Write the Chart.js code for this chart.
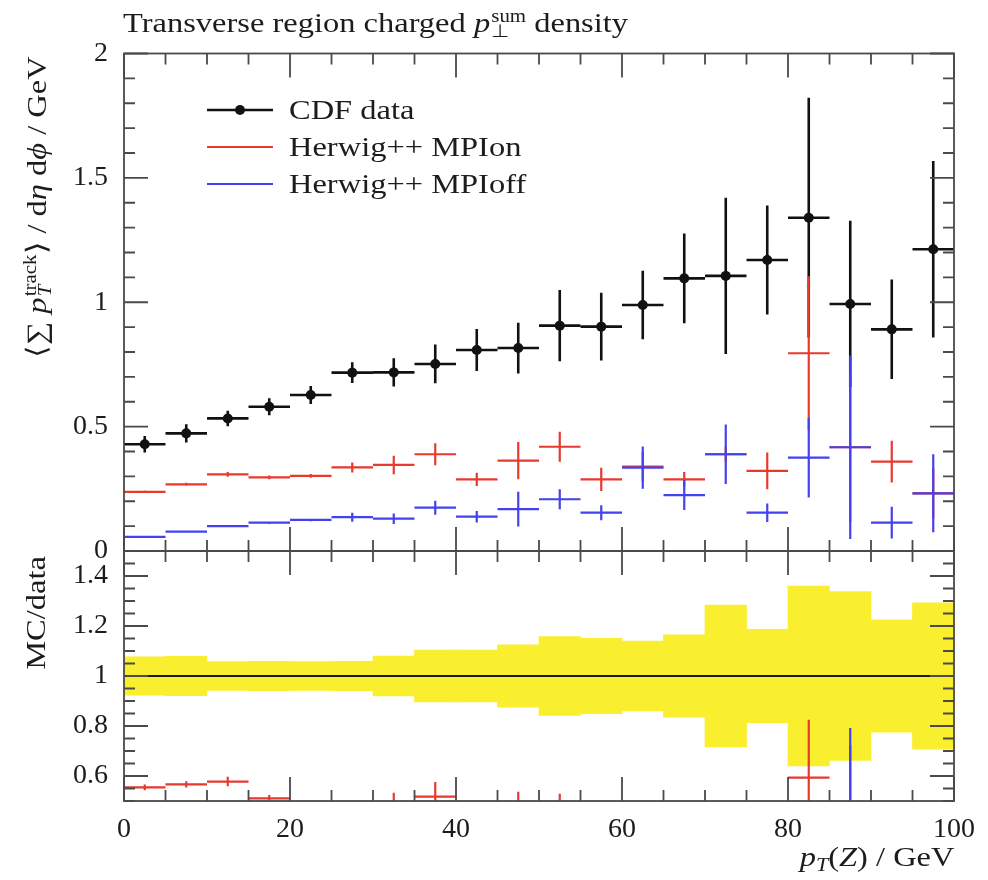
<!DOCTYPE html>
<html>
<head>
<meta charset="utf-8">
<script src="https://cdn.jsdelivr.net/npm/chart.js@4.4.1/dist/chart.umd.min.js"></script>
<style>
  body { margin: 0; background: #fff; }
  #wrap { position: relative; width: 988px; height: 880px; font-family: "Liberation Serif", serif; color: #1c1c1c; }
  #wrap canvas { position: absolute; left: 0; top: 0; }
  .lbl { position: absolute; white-space: nowrap; font-size: 28px; line-height: 1; }
  .wide { transform-origin: 0 0; transform: scaleX(1.16); }
  .rot { transform-origin: 50% 50%; transform: translate(-50%, -50%) rotate(-90deg) scaleX(1.16); }
  .ss { display: inline-flex; flex-direction: column; font-size: 18px; line-height: 15px; vertical-align: 10px; margin-left: 1px; }
  .sub { font-size: 19px; vertical-align: -5px; }
</style>
</head>
<body>
<div id="wrap">
  <canvas id="plot" width="988" height="880"></canvas>
  <div class="lbl wide" style="left:123px; top:9px">Transverse region charged <i>p</i><span class="ss"><span>sum</span><span>&#8869;</span></span> density</div>
  <div class="lbl rot" style="left:38px; top:207px">&#10216;&#8721; <i>p</i><span class="ss"><span>track</span><span><i>T</i></span></span>&#10217; / d<i>&#951;</i> d<i>&#981;</i> / GeV</div>
  <div class="lbl rot" style="left:36px; top:613px">MC/data</div>
  <div class="lbl" id="xtitle" style="right:34px; top:843px; transform-origin: 100% 0; transform: scaleX(1.16);"><i>p</i><span class="sub"><i>T</i></span>(<i>Z</i>) / GeV</div>
</div>
<script>
// binning in pT(Z), 5 GeV wide
const binEdges = [0, 5, 10, 15, 20, 25, 30, 35, 40, 45, 50, 55, 60, 65, 70, 75, 80, 85, 90, 95, 100];

// CDF transverse pT sum density and its uncertainty
const cdfData = [0.429, 0.473, 0.533, 0.580, 0.627, 0.717, 0.718, 0.752, 0.808, 0.816,
                 0.906, 0.902, 0.989, 1.096, 1.106, 1.170, 1.340, 0.993, 0.891, 1.213];
const cdfErr  = [0.033, 0.037, 0.031, 0.034, 0.036, 0.042, 0.057, 0.078, 0.084, 0.102,
                 0.143, 0.136, 0.138, 0.180, 0.314, 0.219, 0.482, 0.335, 0.200, 0.355];

// Herwig++ with multiple parton interactions switched on
const mpiOn    = [0.238, 0.268, 0.308, 0.296, 0.302, 0.336, 0.346, 0.389, 0.288, 0.363,
                  0.419, 0.288, 0.339, 0.288, 0.389, 0.322, 0.795, 0.417, 0.359, 0.232];
const mpiOnErr = [0.005, 0.006, 0.010, 0.008, 0.008, 0.020, 0.037, 0.044, 0.027, 0.075,
                  0.060, 0.047, 0.060, 0.030, 0.030, 0.074, 0.310, 0.300, 0.084, 0.100];

// ... and switched off
const mpiOff    = [0.057, 0.078, 0.100, 0.114, 0.125, 0.136, 0.130, 0.174, 0.138, 0.168,
                   0.208, 0.154, 0.335, 0.225, 0.389, 0.154, 0.375, 0.417, 0.114, 0.232];
const mpiOffErr = [0.004, 0.004, 0.005, 0.005, 0.005, 0.018, 0.021, 0.028, 0.023, 0.070,
                   0.040, 0.030, 0.085, 0.060, 0.120, 0.037, 0.160, 0.369, 0.064, 0.157];

const mainTicks  = [0, 0.5, 1, 1.5, 2];
const ratioTicks = [0.6, 0.8, 1, 1.2, 1.4];
const xTicks     = [0, 20, 40, 60, 80, 100];

const RED = '#e8392f', BLUE = '#4242ee', INK = '#111';
const tickFont = { family: '"Liberation Serif", serif', size: 28 };

// one histogram bin -> point with horizontal (bin) and vertical (error) extent
function binPoints(vals, errs, norm) {
  return vals.map((v, i) => {
    const n = norm ? norm[i] : 1;
    return {
      x: (binEdges[i] + binEdges[i + 1]) / 2,
      y: v / n,
      xMin: binEdges[i], xMax: binEdges[i + 1],
      yMin: (v - errs[i]) / n, yMax: (v + errs[i]) / n
    };
  });
}

const bandPoints = cdfData.map((v, i) => ({
  x: (binEdges[i] + binEdges[i + 1]) / 2,
  y: [1 - cdfErr[i] / v, 1 + cdfErr[i] / v]
}));

// draws the bin-width bar and error bar for every point of a dataset
const errorBars = {
  id: 'errorBars',
  beforeDatasetDraw(chart, args) {
    const ds = chart.data.datasets[args.index];
    if (!ds.crosses) return;
    const xs = chart.scales[args.meta.xAxisID], ys = chart.scales[args.meta.yAxisID];
    const ctx = chart.ctx;
    ctx.save();
    ctx.beginPath();
    ctx.rect(xs.left, ys.top, xs.right - xs.left, ys.bottom - ys.top);
    ctx.clip();
    ctx.strokeStyle = ds.borderColor;
    ctx.lineWidth = ds.crossWidth;
    ds.data.forEach(p => {
      const x = xs.getPixelForValue(p.x), y = ys.getPixelForValue(p.y);
      ctx.beginPath();
      ctx.moveTo(xs.getPixelForValue(p.xMin), y);
      ctx.lineTo(xs.getPixelForValue(p.xMax), y);
      ctx.moveTo(x, ys.getPixelForValue(p.yMin));
      ctx.lineTo(x, ys.getPixelForValue(p.yMax));
      ctx.stroke();
    });
    ctx.restore();
  }
};

// frames of both panels with inward ticks on all four sides
const frame = {
  id: 'frame',
  afterDatasetsDraw(chart) {
    const { ctx } = chart;
    const xs = chart.scales.x;
    const panels = [
      { s: chart.scales.y, minor: 0.1, major: 0.5 },
      { s: chart.scales.ratio, minor: 0.05, major: 0.2 }
    ];
    ctx.save();
    ctx.strokeStyle = '#4a4a4a';
    ctx.lineWidth = 1.8;
    panels.forEach(({ s, minor, major }) => {
      const top = s.top, bot = s.bottom, l = xs.left, r = xs.right;
      ctx.strokeRect(l, top, r - l, bot - top);
      ctx.beginPath();
      const n = Math.round((s.max - s.min) / minor);
      for (let k = 0; k <= n; k++) {
        const v = s.min + k * minor;
        const q = v / major;
        const len = Math.abs(q - Math.round(q)) < 1e-6 ? 24 : 11;
        const y = s.getPixelForValue(v);
        ctx.moveTo(l, y); ctx.lineTo(l + len, y);
        ctx.moveTo(r, y); ctx.lineTo(r - len, y);
      }
      for (let v = 0; v <= 100; v += 5) {
        const len = v % 20 === 0 ? 24 : 11;
        const x = xs.getPixelForValue(v);
        ctx.moveTo(x, top); ctx.lineTo(x, top + len);
        ctx.moveTo(x, bot); ctx.lineTo(x, bot - len);
      }
      ctx.stroke();
    });
    ctx.restore();
  }
};

// legend in the upper left of the main panel
const legendBox = {
  id: 'legendBox',
  afterDraw(chart) {
    const ctx = chart.ctx;
    const rows = [
      { text: 'CDF data', color: INK, dot: true, y: 110 },
      { text: 'Herwig++ MPIon', color: RED, y: 147 },
      { text: 'Herwig++ MPIoff', color: BLUE, y: 184 }
    ];
    ctx.save();
    rows.forEach(r => {
      ctx.strokeStyle = r.color;
      ctx.lineWidth = r.dot ? 2.5 : 2.2;
      ctx.beginPath();
      ctx.moveTo(207, r.y); ctx.lineTo(273, r.y);
      ctx.stroke();
      if (r.dot) {
        ctx.fillStyle = INK;
        ctx.beginPath();
        ctx.arc(240, r.y, 5, 0, Math.PI * 2);
        ctx.fill();
      }
      ctx.save();
      ctx.translate(289, r.y + 9);
      ctx.scale(1.16, 1);
      ctx.fillStyle = '#1c1c1c';
      ctx.font = '28px "Liberation Serif", serif';
      ctx.textBaseline = 'alphabetic';
      ctx.fillText(r.text, 0, 0);
      ctx.restore();
    });
    ctx.restore();
  }
};

const fixedTicks = list => scale => { scale.ticks = list.map(v => ({ value: v })); };
const tickOpts = pad => ({
  font: tickFont, color: '#1c1c1c', padding: pad, autoSkip: false, maxRotation: 0,
  callback: v => String(v)
});

new Chart(document.getElementById('plot'), {
  type: 'scatter',
  data: {
    datasets: [
      {
        label: 'CDF data', data: binPoints(cdfData, cdfErr), yAxisID: 'y',
        crosses: true, crossWidth: 2.6, borderColor: INK, backgroundColor: INK,
        pointRadius: 5, pointBorderWidth: 0, order: 2
      },
      {
        label: 'Herwig++ MPIon', data: binPoints(mpiOn, mpiOnErr), yAxisID: 'y',
        crosses: true, crossWidth: 2.2, borderColor: RED, pointRadius: 0, order: 1
      },
      {
        label: 'Herwig++ MPIoff', data: binPoints(mpiOff, mpiOffErr), yAxisID: 'y',
        crosses: true, crossWidth: 2.2, borderColor: BLUE, pointRadius: 0, order: 0
      },
      {
        type: 'bar', label: 'data uncertainty', data: bandPoints, yAxisID: 'ratio',
        backgroundColor: '#f9ef2e', borderWidth: 0, barPercentage: 1, categoryPercentage: 1,
        order: 6
      },
      {
        type: 'line', label: 'unity', data: [{ x: 0, y: 1 }, { x: 100, y: 1 }], yAxisID: 'ratio',
        borderColor: '#1a1a1a', borderWidth: 2, pointRadius: 0, order: 5
      },
      {
        label: 'MPIon / data', data: binPoints(mpiOn, mpiOnErr, cdfData), yAxisID: 'ratio',
        crosses: true, crossWidth: 2.2, borderColor: RED, pointRadius: 0, order: 4
      },
      {
        label: 'MPIoff / data', data: binPoints(mpiOff, mpiOffErr, cdfData), yAxisID: 'ratio',
        crosses: true, crossWidth: 2.2, borderColor: BLUE, pointRadius: 0, order: 3
      }
    ]
  },
  options: {
    responsive: false,
    animation: false,
    layout: { padding: { top: 53.5, right: 34, bottom: 0, left: 0 } },
    plugins: { legend: { display: false }, tooltip: { enabled: false } },
    scales: {
      x: {
        type: 'linear', min: 0, max: 100, offset: false,
        grid: { display: false }, border: { display: false },
        afterBuildTicks: fixedTicks(xTicks),
        ticks: tickOpts(4),
        afterFit: s => { s.height = 79; }
      },
      ratio: {
        type: 'linear', position: 'left', stack: 'panels', stackWeight: 250, weight: 0,
        min: 0.5, max: 1.5,
        grid: { display: false }, border: { display: false },
        afterBuildTicks: fixedTicks(ratioTicks),
        ticks: tickOpts(8),
        afterFit: s => { s.width = 124; }
      },
      y: {
        type: 'linear', position: 'left', stack: 'panels', stackWeight: 497.5, weight: 1,
        min: 0, max: 2,
        grid: { display: false }, border: { display: false },
        afterBuildTicks: fixedTicks(mainTicks),
        ticks: tickOpts(8),
        afterFit: s => { s.width = 124; }
      }
    }
  },
  plugins: [errorBars, frame, legendBox]
});
</script>
</body>
</html>
